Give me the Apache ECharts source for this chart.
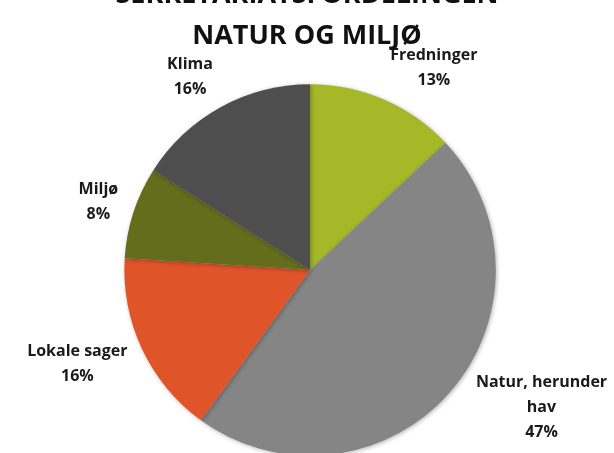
<!DOCTYPE html>
<html>
<head>
<meta charset="utf-8">
<script src="https://cdn.jsdelivr.net/npm/echarts@6/dist/echarts.min.js"></script>
<style>
  html, body { margin: 0; padding: 0; background: #fff; }
  #chart { width: 614px; height: 453px; }
</style>
</head>
<body>
<div id="chart"></div>
<script>
// data
const categories = ['Fredninger', 'Natur, herunder\nhav', 'Lokale sager', 'Miljø', 'Klima']
const shares = [13, 47, 16, 8, 16]
const colors = ['#a6b727', '#858585', '#e0542a', '#646d1b', '#4e4e4e']

const chart = echarts.init(document.getElementById('chart'))

// mid angle of each slice, from 12 o'clock going clockwise
const total = shares.reduce((a, b) => a + b, 0)
const midAngles = []
let acc = 0
shares.forEach(v => {
  midAngles.push((acc + v / 2) / total * Math.PI * 2)
  acc += v
})

const pieCenter = [0.505, 0.596]
const pieRadius = 0.82

// put the label box just outside the pie, like excel does
const placeLabel = (p) => {
  const w = chart.getWidth(), h = chart.getHeight()
  const cx = w * pieCenter[0], cy = h * pieCenter[1]
  const r = Math.min(w, h) / 2 * pieRadius + 16
  const a = midAngles[p.dataIndex]
  const sx = Math.sin(a), sy = -Math.cos(a)
  const lw = p.labelRect.width, lh = p.labelRect.height
  let x = cx + r * sx + Math.sign(sx) * lw / 2
  let y = cy + r * sy + sy * lh * 0.75 / 2
  const maxY = h - lh / 2 - 8
  if (y > maxY) {
    x += Math.sign(sx) * (y - maxY)
    y = maxY
  }
  x = Math.min(x, w - lw / 2 - 1)
  return { x: x, y: y, align: 'center', verticalAlign: 'middle' }
}

const option = {
  animation: false,
  title: {
    text: 'SEKRETARIATSFORDELINGEN\nNATUR OG MILJØ',
    left: 'center',
    top: -30,
    textStyle: {
      fontFamily: 'Open Sans',
      fontWeight: 'bold',
      fontSize: 27,
      lineHeight: 41,
      color: '#111'
    }
  },
  series: [
    {
      type: 'pie',
      center: ['50.5%', '59.6%'],
      radius: '82%',
      startAngle: 90,
      clockwise: true,
      avoidLabelOverlap: false,
      data: categories.map((c, i) => ({
        name: c,
        value: shares[i],
        itemStyle: { color: colors[i] }
      })),
      itemStyle: {
        borderWidth: 0,
        shadowBlur: 4,
        shadowColor: 'rgba(0,0,0,0.3)',
        shadowOffsetX: 1,
        shadowOffsetY: 1
      },
      label: {
        show: true,
        position: 'outside',
        alignTo: 'none',
        overflow: 'none',
        formatter: '{b}\n{d}%',
        fontFamily: 'Open Sans',
        fontWeight: 'bold',
        fontSize: 16,
        lineHeight: 25,
        color: '#1a1a1a'
      },
      labelLine: { show: false },
      labelLayout: placeLabel
    }
  ]
}

chart.setOption(option)
</script>
</body>
</html>
